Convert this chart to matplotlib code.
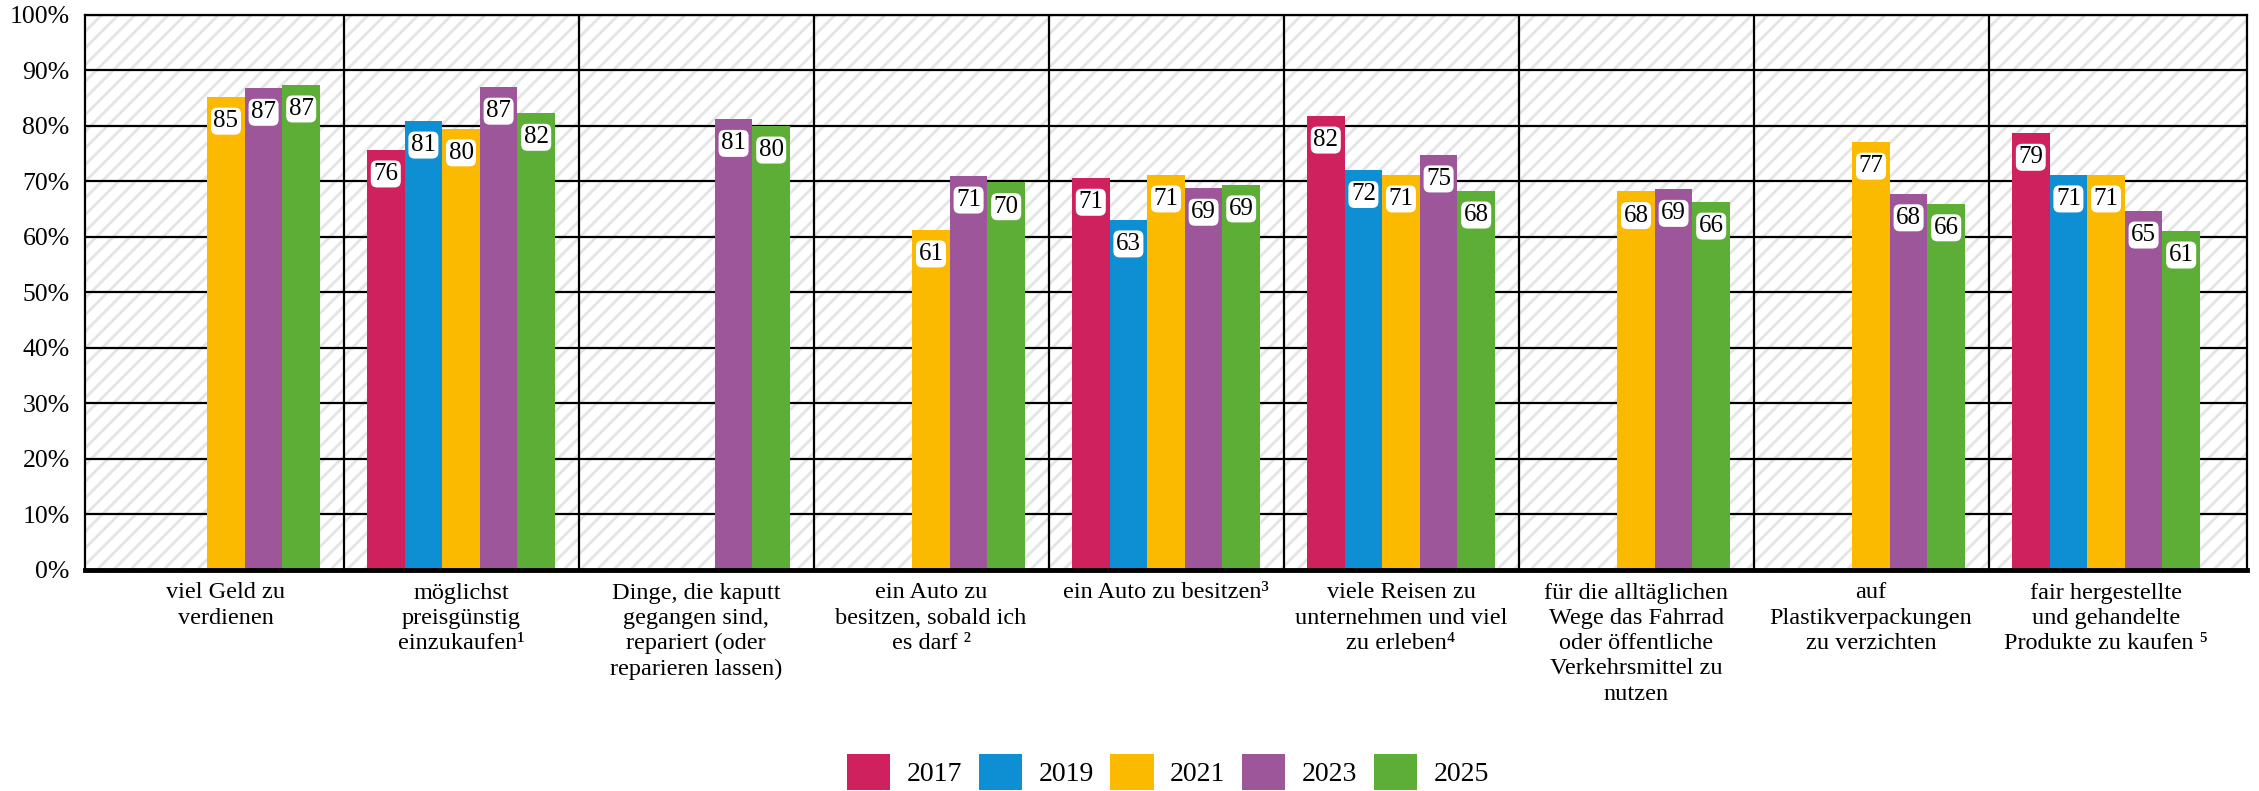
import numpy as np
import matplotlib
matplotlib.use("Agg")
import matplotlib.pyplot as plt
from matplotlib.patches import Rectangle, Patch

plt.rcParams["font.family"] = ["Liberation Serif", "DejaVu Serif"]
plt.rcParams["hatch.linewidth"] = 2.0

categories = [
    "viel Geld zu\nverdienen",
    "möglichst\npreisgünstig\neinzukaufen¹",
    "Dinge, die kaputt\ngegangen sind,\nrepariert (oder\nreparieren lassen)",
    "ein Auto zu\nbesitzen, sobald ich\nes darf ²",
    "ein Auto zu besitzen³",
    "viele Reisen zu\nunternehmen und viel\nzu erleben⁴",
    "für die alltäglichen\nWege das Fahrrad\noder öffentliche\nVerkehrsmittel zu\nnutzen",
    "auf\nPlastikverpackungen\nzu verzichten",
    "fair hergestellte\nund gehandelte\nProdukte zu kaufen ⁵",
]

years = ["2017", "2019", "2021", "2023", "2025"]
colors = ["#CF215E", "#0E8FD4", "#FBBA00", "#9C5699", "#5DAE37"]

# Anteil in %, None = nicht erhoben
v2017 = [None, 75.7, None, None, 70.6, 81.8, None, None, 78.7]
v2019 = [None, 80.9, None, None, 63.1, 72.0, None, None, 71.2]
v2021 = [85.2, 79.5, None, 61.3, 71.2, 71.2, 68.2, 77.1, 71.2]
v2023 = [86.8, 87.0, 81.2, 71.0, 68.8, 74.8, 68.6, 67.8, 64.7]
v2025 = [87.4, 82.3, 80.0, 69.8, 69.4, 68.3, 66.3, 66.0, 61.1]
series = [v2017, v2019, v2021, v2023, v2025]

fig = plt.figure(figsize=(22.59, 7.91), dpi=100)
ax = fig.add_axes([85 / 2259, 1 - 570 / 791, (2247 - 85) / 2259, (570 - 14.7) / 791])

ax.set_xlim(-0.6, len(categories) - 0.4)
ax.set_ylim(0, 100)

# hatched background
ax.add_patch(Rectangle((0, 0), 1, 1, transform=ax.transAxes, facecolor="white",
                       edgecolor="#e4e4e4", linewidth=0, hatch="//", zorder=0))

for y in range(10, 101, 10):
    ax.axhline(y, color="black", lw=1.6, zorder=1)
for i in range(len(categories) - 1):
    ax.axvline(i + 0.5, color="black", lw=1.6, zorder=1)

w = 0.16
x = np.arange(len(categories))
for k, (vals, col) in enumerate(zip(series, colors)):
    xs = x + (k - 2) * w
    for xi, v in zip(xs, vals):
        if v is None:
            continue
        ax.bar(xi, v, width=w, color=col, zorder=2, linewidth=0)
        ax.annotate(f"{round(v):d}", (xi, v), xytext=(0, -17.5), textcoords="offset points",
                    ha="center", va="center", fontsize=18, zorder=3,
                    bbox=dict(boxstyle="round,pad=0.1,rounding_size=0.25", fc="white", ec="none"))

ax.set_yticks(range(0, 101, 10))
ax.set_yticklabels([f"{t}%" for t in range(0, 101, 10)], fontsize=18.5)
ax.set_xticks(x)
ax.set_xticklabels(categories, fontsize=17.5, linespacing=1.27, va="top")
ax.tick_params(axis="both", length=0)
ax.tick_params(axis="y", pad=11)
ax.tick_params(axis="x", pad=9)

for s in ["left", "right", "top"]:
    ax.spines[s].set_linewidth(1.6)
ax.spines["bottom"].set_linewidth(3.5)
ax.spines["bottom"].set_zorder(4)

handles = [Patch(facecolor=c, edgecolor="none") for c in colors]
fig.legend(handles, years, loc="center", bbox_to_anchor=(1168 / 2259, 1 - 772 / 791),
           ncol=5, frameon=False, fontsize=20, handlelength=1.55, handleheight=1.6,
           handletextpad=0.6, columnspacing=0.6, borderpad=0)

fig.savefig("out.png", dpi=100)
